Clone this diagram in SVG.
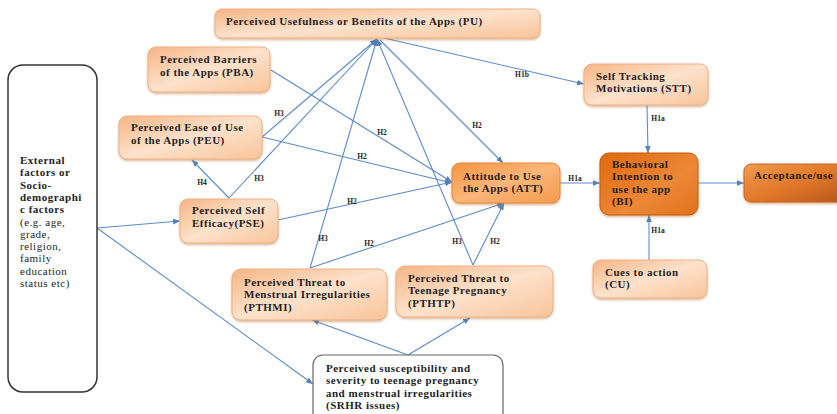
<svg xmlns="http://www.w3.org/2000/svg" width="837" height="414" viewBox="0 0 837 414">
<style>
.n{font-family:"Liberation Serif","Times New Roman",serif;font-weight:bold;font-size:11px;letter-spacing:0.5px;fill:#1e1e1e}
.nr{font-family:"Liberation Serif","Times New Roman",serif;font-weight:normal;font-size:11px;letter-spacing:0.5px;fill:#1e1e1e}
.lb{font-family:"Liberation Serif","Times New Roman",serif;font-weight:bold;font-size:7.5px;fill:#1e1e1e;text-anchor:middle}
.lt{fill:url(#gl);stroke:#eeb285;stroke-width:1;filter:url(#sh)}
.c line{stroke:#5b8bcb;stroke-width:1.1;fill:none;marker-end:url(#ah)}
</style>
<defs>
<linearGradient id="gl" x1="0" y1="0" x2="1" y2="1">
<stop offset="0" stop-color="#f6b585"/><stop offset="0.5" stop-color="#fde2cc"/><stop offset="1" stop-color="#f8c49a"/>
</linearGradient>
<linearGradient id="ga" x1="0" y1="0" x2="1" y2="1">
<stop offset="0" stop-color="#f49440"/><stop offset="0.5" stop-color="#fbb679"/><stop offset="1" stop-color="#f39a4c"/>
</linearGradient>
<linearGradient id="gb" x1="0" y1="0" x2="1" y2="1">
<stop offset="0" stop-color="#e0690d"/><stop offset="0.6" stop-color="#ec8838"/><stop offset="1" stop-color="#e0701a"/>
</linearGradient>
<linearGradient id="gc" x1="0" y1="0" x2="1" y2="1">
<stop offset="0" stop-color="#f09a4e"/><stop offset="0.5" stop-color="#e2792b"/><stop offset="1" stop-color="#b9561a"/>
</linearGradient>
<filter id="sh" x="-10%" y="-10%" width="120%" height="130%">
<feDropShadow dx="0" dy="1.5" stdDeviation="0.8" flood-color="#b86a2c" flood-opacity="0.5"/>
</filter>
<marker id="ah" viewBox="0 0 10 10" refX="10" refY="5" markerWidth="7" markerHeight="7" markerUnits="userSpaceOnUse" orient="auto">
<path d="M0,1 L10,5 L0,9 z" fill="#4f81bd"/>
</marker>
</defs>
<rect width="837" height="414" fill="#ffffff"/>

<g id="connectors" class="c">
<line x1="271" y1="70" x2="452" y2="182"/>
<line x1="262" y1="137" x2="452" y2="183"/>
<line x1="278" y1="220" x2="452" y2="182"/>
<line x1="310" y1="268" x2="504" y2="203"/>
<line x1="473" y1="265" x2="504" y2="203"/>
<line x1="380" y1="40" x2="503" y2="163"/>
<line x1="384" y1="38" x2="584" y2="84"/>
<line x1="262" y1="137" x2="377" y2="39"/>
<line x1="229" y1="198" x2="377" y2="39"/>
<line x1="229" y1="198" x2="192" y2="160"/>
<line x1="310" y1="268" x2="377" y2="39"/>
<line x1="473" y1="265" x2="377" y2="39"/>
<line x1="560" y1="183" x2="600" y2="183"/>
<line x1="647" y1="105" x2="648" y2="153"/>
<line x1="649" y1="260" x2="649" y2="215"/>
<line x1="698" y1="183" x2="744" y2="183"/>
<line x1="97" y1="228" x2="180" y2="221"/>
<line x1="97" y1="228" x2="313" y2="384"/>
<line x1="408" y1="355" x2="312" y2="320"/>
<line x1="408" y1="355" x2="470" y2="318"/>
</g>

<g id="labels">
<text class="lb" x="279" y="116">H3</text>
<text class="lb" x="382" y="135">H2</text>
<text class="lb" x="362" y="159">H2</text>
<text class="lb" x="259" y="181">H3</text>
<text class="lb" x="202" y="185">H4</text>
<text class="lb" x="352" y="204">H2</text>
<text class="lb" x="323" y="241">H3</text>
<text class="lb" x="369" y="246">H2</text>
<text class="lb" x="457" y="244">H3</text>
<text class="lb" x="495" y="244">H2</text>
<text class="lb" x="477" y="128">H2</text>
<text class="lb" x="522" y="77">H1b</text>
<text class="lb" x="575" y="181">H1a</text>
<text class="lb" x="658" y="121">H1a</text>
<text class="lb" x="658" y="233">H1a</text>
</g>

<g id="PU">
<rect class="lt" x="215" y="9" width="325" height="29" rx="7"/>
<text class="n" x="226" y="25">Perceived Usefulness or Benefits of the Apps (PU)</text>
</g>
<g id="PBA">
<rect class="lt" x="148" y="47" width="122" height="45" rx="8"/>
<text class="n" x="160" y="63">Perceived Barriers</text>
<text class="n" x="160" y="75.6">of the Apps (PBA)</text>
</g>
<g id="PEU">
<rect class="lt" x="119" y="116" width="143" height="43" rx="8"/>
<text class="n" x="131" y="131">Perceived Ease of Use</text>
<text class="n" x="131" y="143.6">of the Apps (PEU)</text>
</g>
<g id="PSE">
<rect class="lt" x="180" y="199" width="98" height="44" rx="8"/>
<text class="n" x="192" y="214">Perceived Self</text>
<text class="n" x="192" y="226.6">Efficacy(PSE)</text>
</g>
<g id="EXT">
<rect x="8" y="65" width="89" height="327" rx="15" fill="#ffffff" stroke="#333333" stroke-width="1.5"/>
<text class="n" x="20" y="164">External</text>
<text class="n" x="20" y="176.3">factors or</text>
<text class="n" x="20" y="188.6">Socio-</text>
<text class="n" x="20" y="200.9">demographi</text>
<text class="n" x="20" y="213.2">c factors</text>
<text class="nr" x="20" y="225.5">(e.g. age,</text>
<text class="nr" x="20" y="237.8">grade,</text>
<text class="nr" x="20" y="250.1">religion,</text>
<text class="nr" x="20" y="262.4">family</text>
<text class="nr" x="20" y="274.7">education</text>
<text class="nr" x="20" y="287">status etc)</text>
</g>
<g id="ATT">
<rect x="452" y="163" width="108" height="40" rx="8" fill="url(#ga)" stroke="#e88a3e" filter="url(#sh)"/>
<text class="n" x="463" y="180">Attitude to Use</text>
<text class="n" x="463" y="192.3">the Apps (ATT)</text>
</g>
<g id="STT">
<rect class="lt" x="584" y="64" width="124" height="41" rx="8"/>
<text class="n" x="596" y="80">Self Tracking</text>
<text class="n" x="596" y="92.3">Motivations (STT)</text>
</g>
<g id="BI">
<rect x="600" y="153" width="98" height="62" rx="9" fill="url(#gb)" stroke="#c85c0c" filter="url(#sh)"/>
<text class="n" x="612" y="168">Behavioral</text>
<text class="n" x="612" y="180.3">Intention to</text>
<text class="n" x="612" y="192.6">use the app</text>
<text class="n" x="612" y="204.9">(BI)</text>
</g>
<g id="ACC">
<rect x="744" y="164" width="100" height="38" rx="7" fill="url(#gc)" stroke="#c8661e" filter="url(#sh)"/>
<text class="n" x="754" y="179">Acceptance/use</text>
</g>
<g id="CU">
<rect class="lt" x="593" y="260" width="114" height="38" rx="8"/>
<text class="n" x="605" y="276">Cues to action</text>
<text class="n" x="605" y="288.3">(CU)</text>
</g>
<g id="PTHMI">
<rect class="lt" x="232" y="269" width="155" height="51" rx="9"/>
<text class="n" x="244" y="286">Perceived Threat to</text>
<text class="n" x="244" y="298.3">Menstrual Irregularities</text>
<text class="n" x="244" y="310.6">(PTHMI)</text>
</g>
<g id="PTHTP">
<rect class="lt" x="396" y="266" width="157" height="51" rx="9"/>
<text class="n" x="408" y="282">Perceived Threat to</text>
<text class="n" x="408" y="294.3">Teenage Pregnancy</text>
<text class="n" x="408" y="306.6">(PTHTP)</text>
</g>
<g id="SRHR">
<rect x="313" y="355" width="190" height="70" rx="10" fill="#ffffff" stroke="#666666" stroke-width="1.2"/>
<text class="n" x="326" y="372">Perceived susceptibility  and</text>
<text class="n" x="326" y="384.3">severity to teenage pregnancy</text>
<text class="n" x="326" y="396.6">and menstrual irregularities</text>
<text class="n" x="326" y="408.9">(SRHR issues)</text>
</g>
</svg>
